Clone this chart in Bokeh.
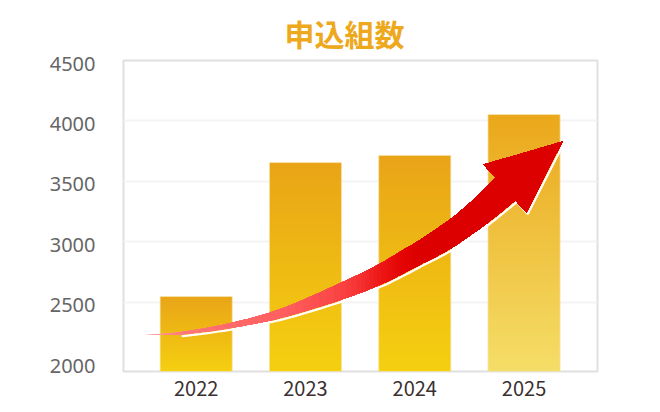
import numpy as np
from bokeh.plotting import figure
from bokeh.embed import file_html
from bokeh.resources import INLINE
from bokeh.models import Range1d, LinearAxis, FixedTicker, Label

years = [2022, 2023, 2024, 2025]
applications = [2546, 3655, 3714, 4053]
y_ticks = [2000, 2500, 3000, 3500, 4000, 4500]
grid_ticks = [2500, 3000, 3500, 4000]
bar_top_colors = [(233, 165, 24), (233, 165, 24), (233, 165, 24), (235, 168, 27)]
bar_bottom_colors = [(245, 208, 16), (245, 208, 16), (245, 208, 16), (245, 222, 104)]

# Arrow outline, in chart units (year, count)
arrow_upper_x = [2021.509, 2021.856, 2022.314, 2022.771, 2023.320, 2023.659, 2023.869, 2024.052, 2024.345, 2024.556, 2024.738]
arrow_upper_y = [2228, 2252, 2327, 2443, 2658, 2807, 2919, 3018, 3200, 3366, 3531]
arrow_lower_x = [2021.509, 2021.856, 2022.314, 2022.771, 2023.320, 2023.659, 2023.869, 2024.052, 2024.345, 2024.665, 2024.921]
arrow_lower_y = [2228, 2232, 2286, 2368, 2517, 2633, 2724, 2811, 2952, 3155, 3341]
arrow_head_x = [2024.738, 2024.629, 2025.352, 2025.022, 2024.921]
arrow_head_y = [3531, 3639, 3829, 3242, 3341]
arrow_colors = [(255, 170, 170), (255, 120, 120), (255, 105, 105), (255, 95, 95), (250, 65, 65),
                (238, 24, 24), (228, 4, 4), (220, 0, 0), (220, 0, 0), (220, 0, 0), (220, 0, 0)]

Y_START, Y_END = 1925.5, 4500
X_START, X_END = 2021.335, 2025.672
BAR_W = 0.66
SUB = 8


def smooth(xs, ys, sub=SUB):
    """Catmull-Rom pass through the read outline so the body reads as a curve."""
    P = np.column_stack([xs, ys]).astype(float)
    P = np.vstack([2 * P[0] - P[1], P, 2 * P[-1] - P[-2]])
    out = []
    for i in range(1, len(P) - 2):
        for t in np.arange(sub) / sub:
            a, b, c, d = P[i - 1], P[i], P[i + 1], P[i + 2]
            out.append(0.5 * (2 * b + (c - a) * t + (2 * a - 5 * b + 4 * c - d) * t ** 2
                              + (3 * b - a - 3 * c + d) * t ** 3))
    out.append(P[-2])
    out = np.array(out)
    return out[:, 0], out[:, 1]


p = figure(width=650, height=405, output_backend="svg", toolbar_location=None,
           x_range=Range1d(X_START, X_END), y_range=Range1d(Y_START, Y_END),
           min_border_left=123, min_border_right=53, min_border_top=60, min_border_bottom=34,
           background_fill_color="white", border_fill_color="white")
p.title.text = "申込組数"
p.title.align = "left"
p.title.vertical_align = "middle"
p.title.offset = 161
p.title.standoff = 10
p.title.text_color = "#EDA81C"
p.title.text_font = "Noto Sans CJK JP"
p.title.text_font_style = "bold"
p.title.text_font_size = "30px"

p.outline_line_color = "#E0E0E0"
p.outline_line_width = 2
p.xgrid.visible = False
p.ygrid.ticker = FixedTicker(ticks=grid_ticks)
p.ygrid.grid_line_color = "#F4F4F4"
p.ygrid.grid_line_width = 2

# x axis
xa = p.xaxis[0]
xa.ticker = FixedTicker(ticks=years)
xa.axis_line_color = None
xa.major_tick_line_color = None
xa.minor_tick_line_color = None
xa.major_label_standoff = 3
xa.major_label_text_color = "#3A3030"
xa.major_label_text_font = "Noto Sans CJK JP"
xa.major_label_text_font_size = "20px"

# y axis: labels sit 3px under their gridline in the reference
p.yaxis[0].visible = False
shift = 3 * (Y_END - Y_START) / 311
p.extra_y_ranges = {"labels": Range1d(Y_START + shift, Y_END + shift)}
ya = LinearAxis(y_range_name="labels", ticker=FixedTicker(ticks=y_ticks))
ya.axis_line_color = None
ya.major_tick_line_color = None
ya.minor_tick_line_color = None
ya.major_label_standoff = 22
ya.major_label_text_color = "#666666"
ya.major_label_text_font = "Noto Sans"
ya.major_label_text_font_size = "20px"
p.add_layout(ya, "left")

# bars with vertical gradient
N = 96
for yr, v, c_top, c_bot in zip(years, applications, bar_top_colors, bar_bottom_colors):
    t = np.linspace(0, 1, N)[:, None]
    rgb = np.array(c_bot)[None, :] * (1 - t) + np.array(c_top)[None, :] * t
    rgba = np.dstack([rgb.reshape(N, 1, 3), np.full((N, 1, 1), 255)]).astype(np.uint8)
    img = rgba.view(dtype=np.uint32).reshape(N, 1)
    p.image_rgba(image=[img], x=yr - BAR_W / 2, y=Y_START, dw=BAR_W, dh=v - Y_START)
p.vbar(x=years, top=applications, bottom=Y_START, width=BAR_W,
       fill_color=None, line_color="#F8E6B0", line_alpha=0.7, line_width=1)

ux, uy = smooth(arrow_upper_x, arrow_upper_y)
lx, ly = smooth(arrow_lower_x, arrow_lower_y)

# white rim on the arrow's lower side
rim_x = np.concatenate([lx[SUB:], [arrow_head_x[3], arrow_head_x[2]]])
rim_y = np.concatenate([ly[SUB:], [arrow_head_y[3], arrow_head_y[2]]])
p.line(rim_x + 0.012, rim_y - 13, line_color="white", line_width=2.2)

# arrow: layered patches from tail to neck so the colour shifts along the body
stops = np.arange(len(arrow_colors)) * SUB
col_arr = np.array(arrow_colors, dtype=float)
for i in range(len(ux)):
    rgb = [int(np.interp(i, stops, col_arr[:, k])) for k in range(3)]
    xs = np.concatenate([ux[i:], arrow_head_x[1:4], lx[i:][::-1]])
    ys = np.concatenate([uy[i:], arrow_head_y[1:4], ly[i:][::-1]])
    p.patch(xs, ys, fill_color="#%02X%02X%02X" % tuple(rgb), line_color=None)

p.add_layout(Label(x=472, y=-18, x_units="screen", y_units="screen", text="(年)",
                   text_align="center", text_baseline="middle", text_color="#3A3030",
                   text_font="Noto Sans CJK JP", text_font_size="14px"))

open("out.html", "w").write(file_html(p, INLINE))
